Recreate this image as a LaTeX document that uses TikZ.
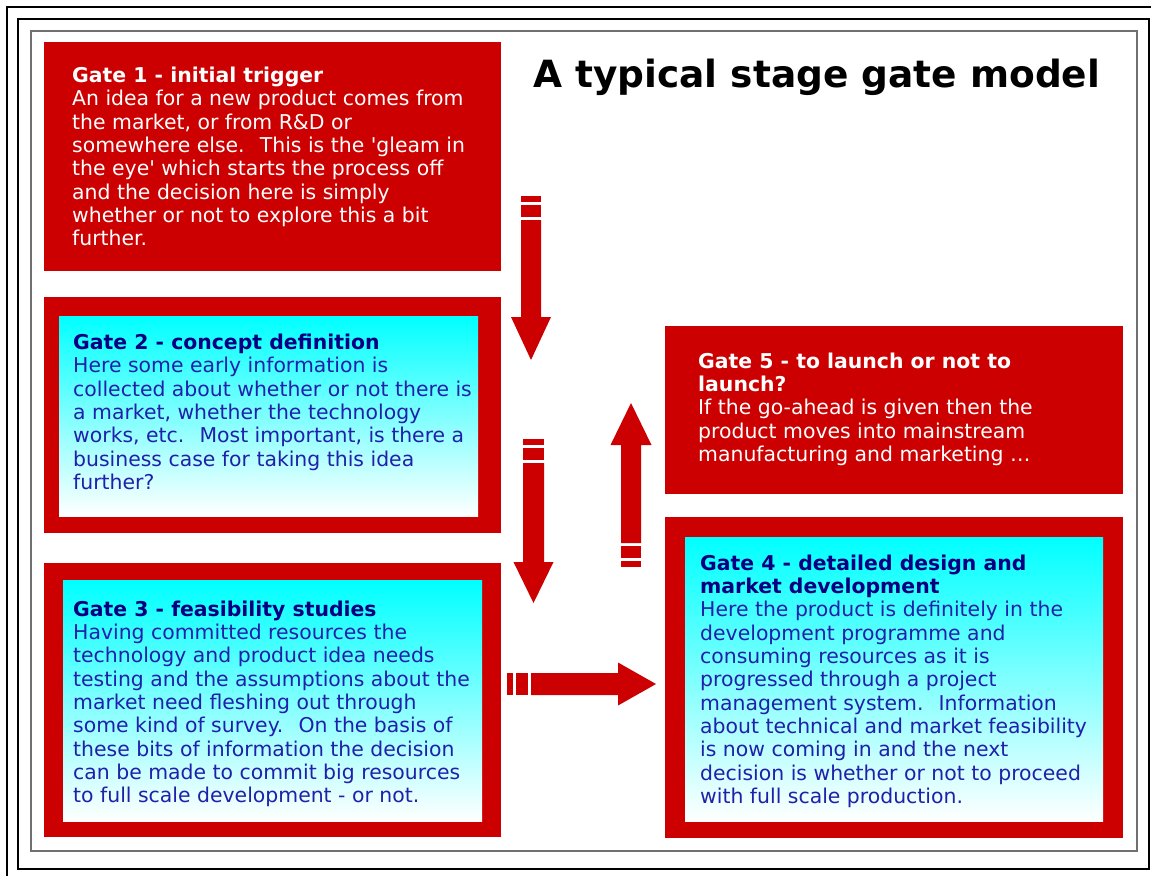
\documentclass[tikz,border=0pt]{standalone}
\usepackage{fontspec}
\setmainfont{DejaVu Sans}
\definecolor{gred}{RGB}{204,0,0}
\definecolor{gcyan}{RGB}{0,255,255}
\definecolor{gnavy}{RGB}{0,0,128}
\definecolor{gblue}{RGB}{32,32,170}
\definecolor{gframe}{RGB}{112,112,112}
\newcommand{\garrow}[6]{%
  \begin{scope}[shift={(#1)}, rotate=#2]
    \fill[gred] (0,-#5) rectangle (6,#5);
    \fill[gred] (9,-#5) rectangle (21,#5);
    \fill[gred] (24,-#5) -- ({#3-#4},-#5) -- ({#3-#4},-#6) -- (#3,0) -- ({#3-#4},#6) -- ({#3-#4},#5) -- (24,#5) -- cycle;
  \end{scope}}
\tikzset{
  redbox/.style={fill=gred, draw=none, inner sep=0, outer sep=0},
  cyanbox/.style={top color=gcyan, bottom color=white, draw=none, inner sep=0, outer sep=0},
  gtxt/.style={anchor=base west, inner sep=0, font=\fontsize{20.4}{23.35}\selectfont},
  whitetxt/.style={gtxt, text=white},
  bluetxt/.style={gtxt, text=gblue},
}
\begin{document}
\begin{tikzpicture}[x=1pt, y=-1pt]
\useasboundingbox[fill=white] (0,0) rectangle (1151,876);
% frames
\draw[line width=2.3] (7,876) -- (7,7) -- (1151,7);
\draw[line width=2.3] (18,19) rectangle (1149,869);
\draw[line width=2, gframe] (31,31) rectangle (1137,851);
% title
\node[anchor=base west, inner sep=0, font=\bfseries\fontsize{37.5}{40}\selectfont] (title) at (533,87) {A typical stage gate model};
% boxes
\node[redbox, minimum width=457, minimum height=229] (g1) at (272.5,156.5) {};
\node[redbox, minimum width=457, minimum height=236] (g2) at (272.5,415) {};
\node[cyanbox, minimum width=419, minimum height=200] (g2in) at (268.5,416) {};
\node[redbox, minimum width=457, minimum height=274] (g3) at (272.5,700) {};
\node[cyanbox, minimum width=419, minimum height=241] (g3in) at (272.5,700.5) {};
\node[redbox, minimum width=458, minimum height=168] (g5) at (894,410) {};
\node[redbox, minimum width=458, minimum height=321] (g4) at (894,677.5) {};
\node[cyanbox, minimum width=418, minimum height=284] (g4in) at (894,679) {};
% texts
\node[whitetxt] (t1) at (72,82.5) {\vtop{%
  \hbox{\bfseries Gate 1 - initial trigger}
  \hbox{An idea for a new product comes from}
  \hbox{the market, or from R\&D or}
  \hbox{somewhere else.~ This is the \textquotesingle gleam in}
  \hbox{the eye\textquotesingle{} which starts the process off}
  \hbox{and the decision here is simply}
  \hbox{whether or not to explore this a bit}
  \hbox{further.}}};
\node[bluetxt] (t2) at (73,349.5) {\vtop{%
  \hbox{\bfseries\color{gnavy}Gate 2 - concept definition}
  \hbox{Here some early information is}
  \hbox{collected about whether or not there is}
  \hbox{a market, whether the technology}
  \hbox{works, etc.~ Most important, is there a}
  \hbox{business case for taking this idea}
  \hbox{further?}}};
\node[bluetxt] (t3) at (73,616) {\vtop{%
  \hbox{\bfseries\color{gnavy}Gate 3 - feasibility studies}
  \hbox{Having committed resources the}
  \hbox{technology and product idea needs}
  \hbox{testing and the assumptions about the}
  \hbox{market need fleshing out through}
  \hbox{some kind of survey.~ On the basis of}
  \hbox{these bits of information the decision}
  \hbox{can be made to commit big resources}
  \hbox{to full scale development - or not.}}};
\node[whitetxt] (t5) at (698,368) {\vtop{%
  \hbox{\bfseries Gate 5 - to launch or not to}
  \hbox{\bfseries launch?}
  \hbox{If the go-ahead is given then the}
  \hbox{product moves into mainstream}
  \hbox{manufacturing and marketing …}}};
\node[bluetxt] (t4) at (700,570) {\vtop{%
  \hbox{\bfseries\color{gnavy}Gate 4 - detailed design and}
  \hbox{\bfseries\color{gnavy}market development}
  \hbox{Here the product is definitely in the}
  \hbox{development programme and}
  \hbox{consuming resources as it is}
  \hbox{progressed through a project}
  \hbox{management system.~ Information}
  \hbox{about technical and market feasibility}
  \hbox{is now coming in and the next}
  \hbox{decision is whether or not to proceed}
  \hbox{with full scale production.}}};
% arrows
\coordinate (a1) at (531,196);
\coordinate (a2) at (533.5,439);
\coordinate (a3) at (631,567);
\coordinate (a4) at (507,684);
\garrow{a1}{-90}{164}{43}{10}{20}
\garrow{a2}{-90}{164}{41}{10.5}{20}
\garrow{a3}{90}{164}{42}{10}{20.5}
\garrow{a4}{0}{149}{38}{11}{21.5}
\end{tikzpicture}
\end{document}
